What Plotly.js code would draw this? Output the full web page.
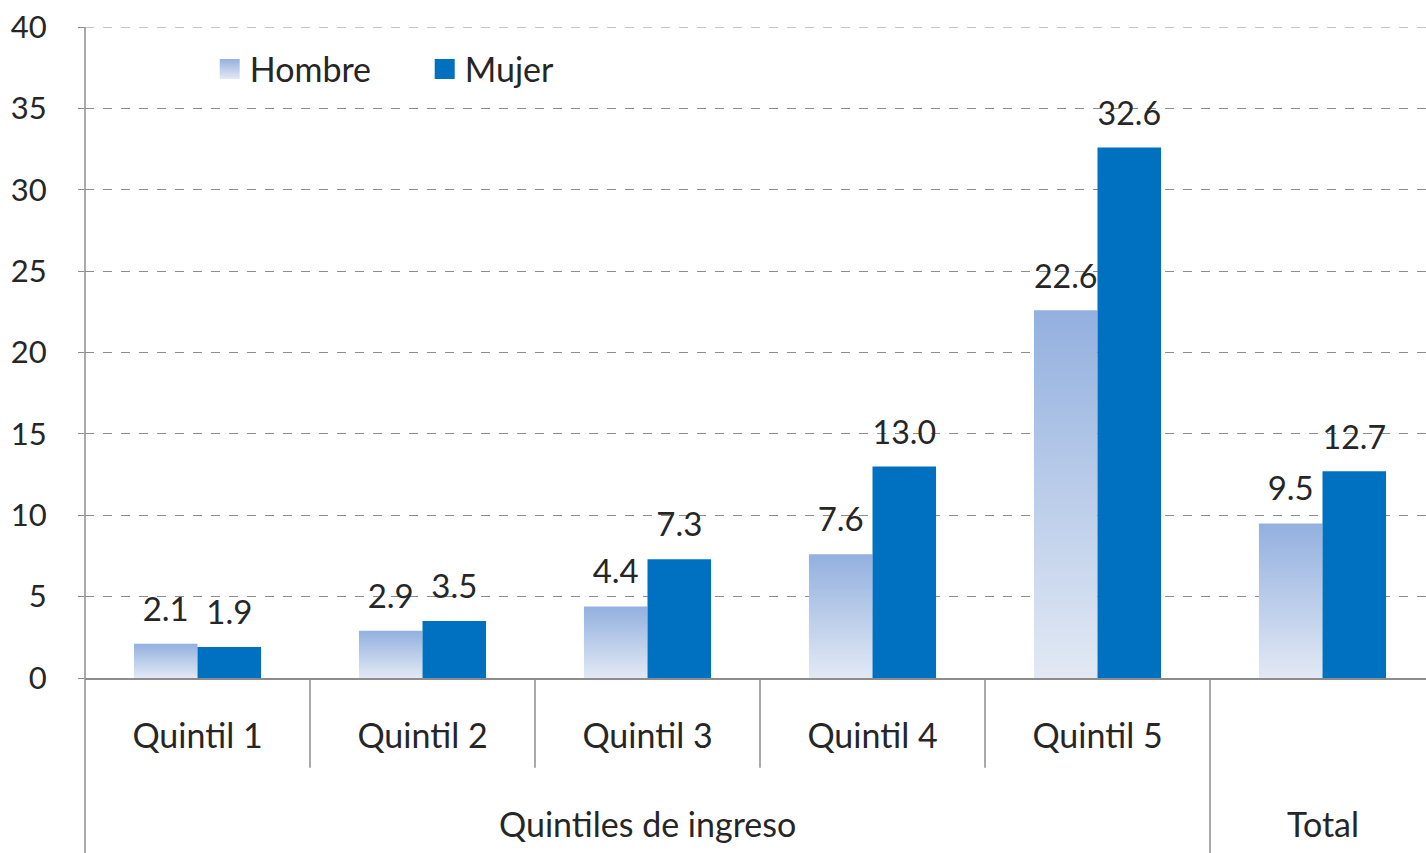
<!DOCTYPE html>
<html>
<head>
<meta charset="utf-8">
<script src="https://cdn.plot.ly/plotly-3.0.1.min.js"></script>
<style>html,body{margin:0;padding:0;background:#fff;}#chart{width:1426px;height:853px;}</style>
</head>
<body>
<div id="chart"></div>
<script>
const categories = ["Quintil 1", "Quintil 2", "Quintil 3", "Quintil 4", "Quintil 5", "Total"];
const tickLabels = ["Quintil 1", "Quintil 2", "Quintil 3", "Quintil 4", "Quintil 5", ""];
const hombre = [2.1, 2.9, 4.4, 7.6, 22.6, 9.5];
const mujer = [1.9, 3.5, 7.3, 13.0, 32.6, 12.7];
const groupLabels = [{text: "Quintiles de ingreso", at: 2}, {text: "Total", at: 5}];
const yTicks = [0, 5, 10, 15, 20, 25, 30, 35, 40];
const yMax = 40;

const FONT = "Lato, 'Open Sans', sans-serif";
const FS = 34;
const FS_VAL = 33;
const FS_TICK = 31;
const TXT = "#262626";
const GRAY = "#8c8c8c";

const traces = [
  {type: "bar", name: "Hombre", x: categories, y: hombre,
   marker: {color: "#b9cae9"}, text: hombre.map(v => v.toFixed(1)),
   textposition: "outside", cliponaxis: false,
   textfont: {family: FONT, size: FS_VAL, color: TXT}},
  {type: "bar", name: "Mujer", x: categories, y: mujer,
   marker: {color: "#0070c0"}, text: mujer.map(v => v.toFixed(1)),
   textposition: "outside", cliponaxis: false,
   textfont: {family: FONT, size: FS_VAL, color: TXT}}
];

const shapes = [];
// top gridline at the axis maximum
shapes.push({type: "line", xref: "paper", yref: "y", x0: 0, x1: 1, y0: yMax, y1: yMax,
  line: {color: GRAY, width: 1, dash: "dash"}, layer: "below"});
// left axis line extending to bottom
shapes.push({type: "line", xref: "paper", yref: "paper", x0: 0, x1: 0, y0: -0.27, y1: 1,
  line: {color: GRAY, width: 1.5}});
// short dividers between quintiles
[0.5, 1.5, 2.5, 3.5].forEach(p => shapes.push({type: "line", xref: "x", yref: "paper",
  x0: p, x1: p, y0: -0.138, y1: 0, line: {color: GRAY, width: 1.5}}));
// long divider before Total
shapes.push({type: "line", xref: "x", yref: "paper", x0: 4.5, x1: 4.5, y0: -0.27, y1: 0,
  line: {color: GRAY, width: 1.5}});

const annotations = groupLabels.map(g => ({
  text: g.text, x: g.at, xref: "x", y: -0.224, yref: "paper", showarrow: false,
  xanchor: "center", yanchor: "middle", font: {family: FONT, size: FS, color: TXT}
}));

const layout = {
  width: 1426, height: 853,
  margin: {l: 85, r: 0, t: 27, b: 175},
  paper_bgcolor: "#fff", plot_bgcolor: "#fff",
  barmode: "group", bargap: 0.435, bargroupgap: 0,
  font: {family: FONT, size: FS, color: TXT},
  xaxis: {type: "category", categoryarray: categories, range: [-0.5, 5.46],
    tickvals: categories, ticktext: tickLabels, ticks: "", showgrid: false,
    showline: true, linecolor: GRAY, linewidth: 1.5,
    tickfont: {family: FONT, size: FS, color: TXT}, ticklabelstandoff: 28, fixedrange: true},
  yaxis: {range: [0, yMax], tickvals: yTicks, ticks: "outside", ticklen: 6,
    tickcolor: GRAY, tickwidth: 1, showline: false,
    showgrid: true, gridcolor: GRAY, griddash: "dash", gridwidth: 1,
    zeroline: false, tickfont: {family: FONT, size: FS_TICK, color: TXT},
    ticklabelstandoff: 25, fixedrange: true},
  legend: {orientation: "h", x: 0.093, xanchor: "left", y: 0.935, yanchor: "middle",
    font: {family: FONT, size: FS, color: TXT}, bgcolor: "rgba(0,0,0,0)",
    entrywidth: 170, entrywidthmode: "pixels", itemclick: false},
  shapes: shapes, annotations: annotations, showlegend: true
};

Plotly.newPlot("chart", traces, layout, {displayModeBar: false, staticPlot: true}).then(gd => {
  const svg = gd.querySelector("svg.main-svg");
  let defs = svg.querySelector("defs");
  const ns = "http://www.w3.org/2000/svg";
  const lg = document.createElementNS(ns, "linearGradient");
  lg.setAttribute("id", "hgrad");
  lg.setAttribute("x1", "0"); lg.setAttribute("y1", "0");
  lg.setAttribute("x2", "0"); lg.setAttribute("y2", "1");
  const s1 = document.createElementNS(ns, "stop");
  s1.setAttribute("offset", "0"); s1.setAttribute("stop-color", "#93b0df");
  const s2 = document.createElementNS(ns, "stop");
  s2.setAttribute("offset", "1"); s2.setAttribute("stop-color", "#e2e9f4");
  lg.appendChild(s1); lg.appendChild(s2); defs.appendChild(lg);
  const barTraces = gd.querySelectorAll(".barlayer .trace");
  if (barTraces[0]) barTraces[0].querySelectorAll(".point path").forEach(p => p.style.fill = "url(#hgrad)");
  // lift value labels a little further above the bars
  gd.querySelectorAll(".barlayer text.bartext").forEach(t => {
    const y = parseFloat(t.getAttribute("y") || "0");
    t.setAttribute("y", y - 13);
  });
  const legPts = gd.querySelectorAll(".legend .legendpoints path");
  legPts.forEach((p, i) => {
    p.setAttribute("d", "M10,10H-10V-10H10Z");
    if (i === 0) p.style.fill = "url(#hgrad)";
  });
});
</script>
</body>
</html>
